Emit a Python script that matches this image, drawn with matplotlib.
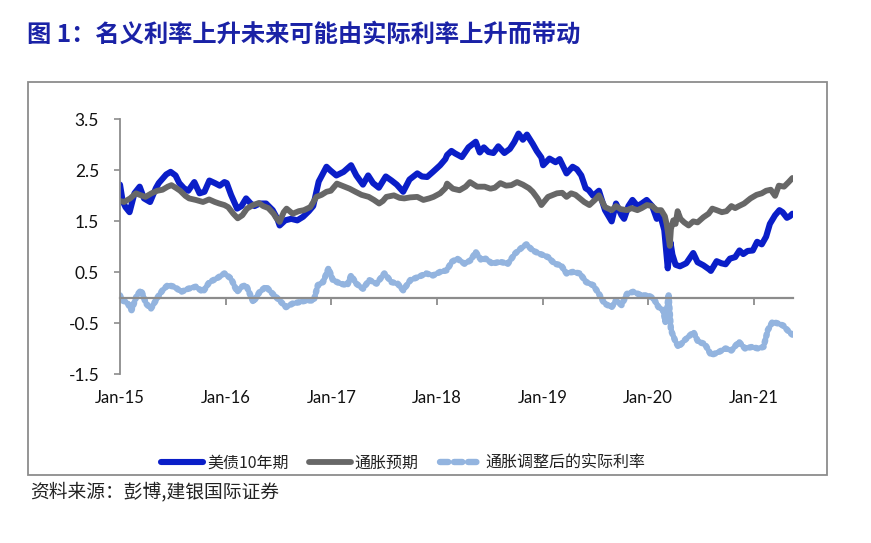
import matplotlib
matplotlib.use("Agg")
import matplotlib.pyplot as plt
from matplotlib.patches import Rectangle
import pandas as pd

# 美债10年期
ust_dates = [
    "2015-01-01", "2015-01-10", "2015-01-20", "2015-02-03", "2015-02-20", "2015-03-10", "2015-03-25",
    "2015-04-15", "2015-05-05", "2015-05-15", "2015-06-10", "2015-06-25", "2015-07-12", "2015-07-25",
    "2015-08-10", "2015-08-25", "2015-09-15", "2015-10-03", "2015-10-20", "2015-11-06", "2015-11-25",
    "2015-12-12", "2015-12-28", "2016-01-05", "2016-01-20", "2016-02-10", "2016-02-25", "2016-03-12",
    "2016-03-28", "2016-04-10", "2016-04-28", "2016-05-20", "2016-06-12", "2016-06-28", "2016-07-06",
    "2016-07-25", "2016-08-15", "2016-09-05", "2016-09-25", "2016-10-15", "2016-10-30", "2016-11-09",
    "2016-11-18", "2016-12-15", "2016-12-28", "2017-01-18", "2017-02-12", "2017-03-10", "2017-03-28",
    "2017-04-10", "2017-04-20", "2017-05-08", "2017-05-25", "2017-06-14", "2017-07-08", "2017-07-28",
    "2017-08-15", "2017-09-06", "2017-09-28", "2017-10-25", "2017-11-10", "2017-11-28", "2017-12-18",
    "2018-01-12", "2018-01-30", "2018-02-05", "2018-02-20", "2018-03-05", "2018-03-28", "2018-04-20",
    "2018-05-15", "2018-05-29", "2018-06-12", "2018-06-28", "2018-07-15", "2018-08-01", "2018-08-22",
    "2018-09-10", "2018-09-25", "2018-10-10", "2018-10-25", "2018-11-08", "2018-11-28", "2018-12-12",
    "2018-12-28", "2019-01-03", "2019-01-25", "2019-02-15", "2019-03-01", "2019-03-25", "2019-04-15",
    "2019-04-30", "2019-05-15", "2019-05-30", "2019-06-10", "2019-06-25", "2019-07-15", "2019-08-05",
    "2019-08-28", "2019-09-12", "2019-10-01", "2019-10-10", "2019-10-25", "2019-11-08", "2019-11-25",
    "2019-12-10", "2019-12-27", "2020-01-15", "2020-01-31", "2020-02-12", "2020-02-26", "2020-03-06",
    "2020-03-09", "2020-03-18", "2020-03-25", "2020-04-05", "2020-04-20", "2020-05-12", "2020-06-05",
    "2020-06-20", "2020-07-10", "2020-07-30", "2020-08-05", "2020-08-25", "2020-09-10", "2020-09-25",
    "2020-10-10", "2020-10-28", "2020-11-12", "2020-11-25", "2020-12-10", "2020-12-28", "2021-01-12",
    "2021-01-28", "2021-02-12", "2021-02-25", "2021-03-15", "2021-03-30", "2021-04-10", "2021-04-25",
    "2021-05-05", "2021-05-14",
]
ust_10y = [
    2.22, 1.90, 1.78, 1.68, 2.05, 2.18, 1.95,
    1.88, 2.15, 2.25, 2.42, 2.47, 2.40, 2.25,
    2.15, 2.10, 2.27, 2.05, 2.08, 2.30, 2.25,
    2.20, 2.27, 2.25, 2.02, 1.75, 1.80, 1.95,
    1.85, 1.80, 1.85, 1.85, 1.72, 1.55, 1.42,
    1.52, 1.55, 1.52, 1.59, 1.70, 1.80, 2.05,
    2.28, 2.57, 2.50, 2.40, 2.47, 2.60, 2.40,
    2.30, 2.22, 2.40, 2.25, 2.16, 2.38, 2.30,
    2.22, 2.08, 2.32, 2.44, 2.38, 2.37, 2.47,
    2.60, 2.72, 2.80, 2.88, 2.83, 2.76, 2.95,
    3.06, 2.85, 2.95, 2.86, 2.84, 2.97, 2.84,
    2.92, 3.05, 3.22, 3.10, 3.20, 3.02, 2.88,
    2.75, 2.60, 2.73, 2.66, 2.72, 2.44, 2.57,
    2.52, 2.40, 2.15, 2.11, 2.00, 2.10, 1.72,
    1.50, 1.85, 1.62, 1.55, 1.80, 1.92, 1.80,
    1.85, 1.92, 1.80, 1.55, 1.62, 1.33, 0.78,
    0.58, 1.10, 0.85, 0.65, 0.62, 0.68, 0.88,
    0.70, 0.64, 0.56, 0.53, 0.72, 0.68, 0.66,
    0.77, 0.80, 0.93, 0.86, 0.92, 0.93, 1.10,
    1.05, 1.20, 1.45, 1.62, 1.72, 1.68, 1.57,
    1.60, 1.65,
]

# 通胀预期
infl_dates = [
    "2015-01-01", "2015-01-15", "2015-02-05", "2015-02-25", "2015-03-10", "2015-03-30", "2015-04-20",
    "2015-05-10", "2015-05-28", "2015-06-15", "2015-06-28", "2015-07-15", "2015-07-28", "2015-08-15",
    "2015-08-28", "2015-09-20", "2015-10-15", "2015-11-05", "2015-11-25", "2015-12-10", "2015-12-28",
    "2016-01-10", "2016-01-28", "2016-02-12", "2016-02-28", "2016-03-15", "2016-04-05", "2016-04-25",
    "2016-05-10", "2016-05-28", "2016-06-15", "2016-06-25", "2016-07-06", "2016-07-20", "2016-07-30",
    "2016-08-20", "2016-09-10", "2016-09-28", "2016-10-20", "2016-11-10", "2016-11-28", "2016-12-15",
    "2016-12-30", "2017-01-20", "2017-02-15", "2017-03-05", "2017-03-25", "2017-04-15", "2017-05-10",
    "2017-05-28", "2017-06-15", "2017-06-28", "2017-07-10", "2017-08-05", "2017-08-25", "2017-09-10",
    "2017-09-30", "2017-10-25", "2017-11-15", "2017-12-05", "2017-12-20", "2018-01-12", "2018-01-30",
    "2018-02-05", "2018-02-25", "2018-03-20", "2018-04-10", "2018-04-25", "2018-05-20", "2018-06-15",
    "2018-07-05", "2018-07-20", "2018-08-08", "2018-08-28", "2018-09-15", "2018-10-05", "2018-10-25",
    "2018-11-15", "2018-11-28", "2018-12-15", "2018-12-28", "2019-01-20", "2019-02-20", "2019-03-10",
    "2019-03-25", "2019-04-10", "2019-04-25", "2019-05-10", "2019-05-25", "2019-06-12", "2019-07-01",
    "2019-07-15", "2019-08-05", "2019-08-28", "2019-09-12", "2019-09-28", "2019-10-20", "2019-11-05",
    "2019-11-25", "2019-12-10", "2019-12-28", "2020-01-15", "2020-01-31", "2020-02-15", "2020-02-28",
    "2020-03-05", "2020-03-09", "2020-03-16", "2020-03-20", "2020-03-28", "2020-04-05", "2020-04-12",
    "2020-04-22", "2020-05-05", "2020-05-20", "2020-06-05", "2020-06-20", "2020-07-10", "2020-07-28",
    "2020-08-10", "2020-08-25", "2020-09-12", "2020-09-28", "2020-10-15", "2020-10-28", "2020-11-10",
    "2020-11-28", "2020-12-20", "2021-01-10", "2021-01-28", "2021-02-12", "2021-02-28", "2021-03-15",
    "2021-03-28", "2021-04-15", "2021-05-01", "2021-05-14",
]
infl_exp = [
    1.90, 1.88, 1.95, 2.05, 2.02, 1.98, 2.05,
    2.10, 2.12, 2.18, 2.21, 2.15, 2.10, 2.00,
    1.95, 1.92, 1.88, 1.93, 1.88, 1.85, 1.82,
    1.78, 1.65, 1.56, 1.62, 1.75, 1.82, 1.86,
    1.80, 1.76, 1.65, 1.56, 1.49, 1.68, 1.75,
    1.65, 1.70, 1.72, 1.78, 1.98, 2.02, 2.08,
    2.10, 2.24, 2.18, 2.14, 2.08, 2.02, 1.98,
    1.92, 1.85, 1.90, 1.98, 2.01, 1.96, 1.95,
    1.97, 1.98, 1.92, 1.95, 1.98, 2.05, 2.15,
    2.24, 2.14, 2.11, 2.18, 2.27, 2.18, 2.18,
    2.14, 2.16, 2.25, 2.20, 2.21, 2.27, 2.22,
    2.15, 2.08, 1.95, 1.82, 1.98, 2.05, 2.06,
    1.98, 2.05, 2.02, 1.95, 1.88, 1.82, 1.92,
    2.01, 1.78, 1.72, 1.80, 1.74, 1.72, 1.76,
    1.72, 1.76, 1.82, 1.80, 1.72, 1.72, 1.60,
    1.45, 1.30, 1.02, 1.35, 1.52, 1.45, 1.70,
    1.55, 1.48, 1.42, 1.50, 1.48, 1.58, 1.65,
    1.75, 1.72, 1.68, 1.70, 1.80, 1.76, 1.80,
    1.85, 1.95, 2.02, 2.05, 2.10, 2.12, 2.00,
    2.20, 2.18, 2.27, 2.35,
]

# 通胀调整后的实际利率
real_dates = [
    "2015-01-01", "2015-01-08", "2015-01-25", "2015-02-10", "2015-02-28", "2015-03-15", "2015-04-01",
    "2015-04-18", "2015-05-12", "2015-05-28", "2015-06-15", "2015-07-08", "2015-08-01", "2015-08-25",
    "2015-09-20", "2015-10-15", "2015-11-06", "2015-12-01", "2015-12-28", "2016-01-20", "2016-02-10",
    "2016-02-25", "2016-03-12", "2016-04-06", "2016-04-28", "2016-05-20", "2016-06-12", "2016-07-06",
    "2016-07-28", "2016-08-20", "2016-09-15", "2016-10-06", "2016-11-01", "2016-11-15", "2016-12-03",
    "2016-12-22", "2017-01-06", "2017-02-01", "2017-02-25", "2017-03-10", "2017-03-28", "2017-04-20",
    "2017-05-12", "2017-06-06", "2017-07-03", "2017-07-28", "2017-08-18", "2017-09-06", "2017-10-01",
    "2017-10-28", "2017-11-25", "2017-12-18", "2018-01-12", "2018-02-03", "2018-02-22", "2018-03-12",
    "2018-04-06", "2018-04-28", "2018-05-15", "2018-06-03", "2018-06-18", "2018-07-12", "2018-08-06",
    "2018-09-03", "2018-09-28", "2018-10-18", "2018-11-06", "2018-11-28", "2018-12-20", "2019-01-20",
    "2019-02-12", "2019-03-06", "2019-03-25", "2019-04-15", "2019-05-10", "2019-06-01", "2019-06-25",
    "2019-07-15", "2019-08-03", "2019-08-28", "2019-09-12", "2019-10-01", "2019-10-20", "2019-11-10",
    "2019-12-10", "2020-01-01", "2020-01-20", "2020-02-06", "2020-02-22", "2020-03-01", "2020-03-12",
    "2020-03-20", "2020-04-03", "2020-04-15", "2020-05-06", "2020-06-06", "2020-06-22", "2020-07-15",
    "2020-08-06", "2020-09-01", "2020-09-25", "2020-10-15", "2020-11-10", "2020-12-01", "2020-12-25",
    "2021-01-15", "2021-02-03", "2021-02-18", "2021-03-06", "2021-03-25", "2021-04-12", "2021-05-03",
    "2021-05-14",
]
real_rate = [
    0.05, -0.05, -0.08, -0.24, 0.05, 0.15, -0.11,
    -0.21, 0.02, 0.15, 0.25, 0.22, 0.12, 0.18,
    0.22, 0.12, 0.31, 0.38, 0.48, 0.38, 0.12,
    0.22, 0.25, -0.08, 0.12, 0.22, 0.08, -0.05,
    -0.18, -0.11, -0.08, -0.05, -0.05, 0.25, 0.31,
    0.58, 0.35, 0.28, 0.25, 0.44, 0.28, 0.18,
    0.35, 0.28, 0.48, 0.31, 0.28, 0.15, 0.35,
    0.41, 0.48, 0.44, 0.51, 0.54, 0.71, 0.77,
    0.67, 0.74, 0.90, 0.74, 0.77, 0.67, 0.71,
    0.67, 0.87, 0.97, 1.05, 0.93, 0.87, 0.80,
    0.67, 0.64, 0.48, 0.51, 0.48, 0.31, 0.25,
    0.08, -0.11, -0.18, -0.05, -0.14, 0.08, 0.12,
    0.05, 0.05, -0.01, -0.18, -0.24, -0.47, 0.05,
    -0.63, -0.83, -0.96, -0.83, -0.67, -0.86, -0.90,
    -1.12, -1.06, -0.99, -1.03, -0.86, -0.99, -0.96,
    -0.99, -0.96, -0.63, -0.47, -0.50, -0.54, -0.67,
    -0.72,
]

yticks = [3.5, 2.5, 1.5, 0.5, -0.5, -1.5]
xtick_dates = ["2015-01-01", "2016-01-01", "2017-01-01", "2018-01-01",
               "2019-01-01", "2020-01-01", "2021-01-01"]
xtick_labels = ["Jan-15", "Jan-16", "Jan-17", "Jan-18", "Jan-19", "Jan-20", "Jan-21"]
series_labels = ["美债10年期", "通胀预期", "通胀调整后的实际利率"]

title = "图 1：名义利率上升未来可能由实际利率上升而带动"
source = "资料来源：彭博,建银国际证券"

CJK = ["Noto Sans CJK SC", "DejaVu Sans"]
NUM = ["Lato", "DejaVu Sans"]

fig = plt.figure(figsize=(8.71, 5.43), dpi=100)
fig.patch.set_facecolor("white")

# outer frame around the chart
fig.patches.append(Rectangle((28 / 871, 1 - 475 / 543), (827 - 28) / 871, (475 - 82) / 543,
                             transform=fig.transFigure, fill=False,
                             edgecolor="#8c8c8c", linewidth=1.3))

ax = fig.add_axes([120 / 871, 1 - 374.5 / 543, (793 - 120) / 871, (374.5 - 119.3) / 543])

l1, = ax.plot(pd.to_datetime(ust_dates), ust_10y, color="#0a1ec8", lw=4.4,
              solid_joinstyle="round", solid_capstyle="round")
l2, = ax.plot(pd.to_datetime(infl_dates), infl_exp, color="#676767", lw=4.2,
              solid_joinstyle="round", solid_capstyle="round")
l3, = ax.plot(pd.to_datetime(real_dates), real_rate, color="#93b4df", lw=4.6,
              linestyle=(0, (0.35, 0.65)), dash_capstyle="round", dash_joinstyle="round")

ax.set_xlim(pd.Timestamp("2015-01-01"), pd.Timestamp("2021-05-16"))
ax.set_ylim(-1.5, 3.5)

for s in ["top", "right"]:
    ax.spines[s].set_visible(False)
ax.spines["left"].set_color("#8c8c8c")
ax.spines["left"].set_linewidth(1.3)
ax.spines["bottom"].set_position(("data", 0))
ax.spines["bottom"].set_color("#8c8c8c")
ax.spines["bottom"].set_linewidth(1.6)

ax.set_yticks(yticks)
ax.set_yticklabels([f"{v:.1f}" for v in yticks], fontfamily=NUM, fontsize=12.5, color="#111111")
ax.tick_params(axis="y", direction="out", length=4, width=1.2, color="#8c8c8c", pad=11)

ax.set_xticks(pd.to_datetime(xtick_dates[1:]))
ax.tick_params(axis="x", direction="out", length=5, width=1.3, color="#8c8c8c", labelbottom=False)
for d, lab in zip(pd.to_datetime(xtick_dates), xtick_labels):
    ax.text(d, -0.092, lab, transform=ax.get_xaxis_transform(), ha="center", va="center",
            fontfamily=NUM, fontsize=12, color="#111111")

leg = ax.legend([l1, l2, l3], series_labels, loc="center", bbox_to_anchor=(0.463, 0.147),
                bbox_transform=fig.transFigure, ncol=3, frameon=False,
                prop={"family": CJK, "size": 11.5}, handlelength=2.6, handletextpad=0.25,
                columnspacing=1.3)
for t in leg.get_texts():
    t.set_color("#222222")
leg.get_lines()[2].set_linestyle((0, (1.3, 0.9)))

fig.text(27 / 871, 1 - 35 / 543, title, fontfamily=CJK, fontsize=17.5, fontweight="bold",
         color="#1a22a6", ha="left", va="center")
fig.text(30 / 871, 1 - 492 / 543, source, fontfamily=CJK, fontsize=13.5, style="italic",
         color="#222222", ha="left", va="center")

fig.savefig("out.png", dpi=100, facecolor="white")
